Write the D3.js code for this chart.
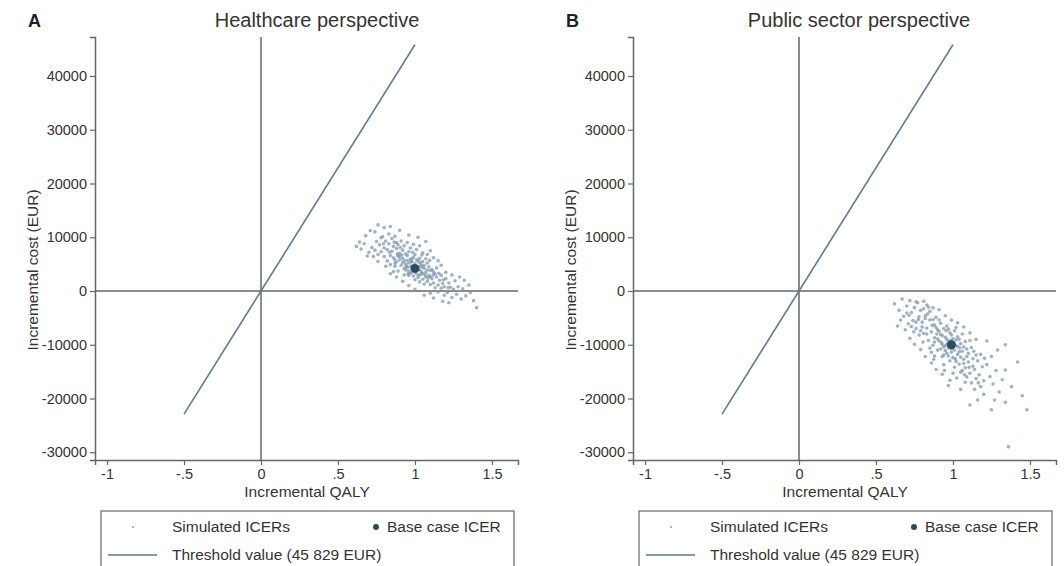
<!DOCTYPE html>
<html>
<head>
<meta charset="utf-8">
<script src="https://cdn.jsdelivr.net/npm/d3@7"></script>
<style>
  body { margin: 0; background: #fff; }
  text { font-family: "Liberation Sans", Arial, sans-serif; fill: #333; }
</style>
</head>
<body>
<script>
// chart values
var qalyTicks = [-1, -0.5, 0, 0.5, 1, 1.5];
var qalyTickLabels = ["-1", "-.5", "0", ".5", "1", "1.5"];
var costTicks = [40000, 30000, 20000, 10000, 0, -10000, -20000, -30000];
var threshold = 45829;
var thresholdQaly = [-0.5, 1];
var titles = ["Healthcare perspective", "Public sector perspective"];
var letters = ["A", "B"];
var legendLabels = ["Simulated ICERs", "Base case ICER", "Threshold value (45 829 EUR)"];

var baseA = [1.0, 4200];
var baseB = [0.99, -10000];

// simulated ICERs, healthcare perspective [QALY, EUR]
var simA = [
  [0.86,6200],[0.88,5400],[0.9,7000],[0.91,4800],[0.92,6100],[0.93,5600],[0.94,3900],[0.95,6600],[0.95,4400],[0.96,5200],
  [0.97,3300],[0.97,5900],[0.98,4700],[0.99,2800],[0.99,6300],[1.0,5100],[1.0,3600],[1.01,4400],[1.02,2500],[1.02,5600],
  [1.03,3900],[1.04,3100],[1.04,4900],[1.05,2200],[1.06,4200],[1.07,3500],[1.08,1800],[1.08,5200],[1.09,2900],[1.1,3800],
  [1.11,2300],[1.12,1500],[1.13,3200],[1.14,2600],[1.15,1100],[0.87,4600],[0.89,3700],[0.9,5800],[0.92,7600],[0.93,4200],
  [0.94,6900],[0.96,2900],[0.96,7300],[0.98,5500],[0.98,3500],[1.0,6800],[1.0,2100],[1.01,5800],[1.03,6100],[1.03,1700],
  [1.05,5500],[1.05,3300],[1.06,1300],[1.07,6000],[1.07,2600],[1.09,4500],[1.1,1200],[1.11,4000],[1.12,3000],[1.13,600],
  [1.14,4300],[1.16,2000],[1.17,2900],[1.18,1400],[1.19,800],[0.72,8100],[0.74,7600],[0.75,9200],[0.76,6800],[0.77,8600],
  [0.78,7300],[0.79,10100],[0.8,6400],[0.8,8000],[0.81,9300],[0.82,5600],[0.82,7700],[0.83,8800],[0.84,6600],[0.84,4900],
  [0.85,9800],[0.85,7400],[0.86,8300],[0.87,5800],[0.88,7900],[0.88,9000],[0.89,6500],[0.7,7200],[0.73,6400],[0.76,5500],
  [0.78,9900],[0.81,4600],[0.83,10600],[0.86,3600],[0.87,10200],[0.89,8600],[0.91,9300],[0.93,8400],[0.95,9000],[0.97,8000],
  [0.99,8700],[1.01,7700],[1.03,8400],[1.05,7100],[1.08,6800],[1.1,7500],[1.12,6200],[1.15,5600],[1.17,4800],[1.15,-200],
  [1.17,500],[1.19,-800],[1.2,2300],[1.21,-300],[1.22,1500],[1.23,700],[1.24,-1200],[1.25,300],[1.26,1900],[1.27,-600],
  [1.28,800],[1.3,-1500],[1.31,400],[1.33,-900],[1.35,1100],[1.36,-300],[1.38,-1800],[1.4,-3100],[1.29,2600],[1.2,3500],
  [1.24,3000],[1.32,2000],[1.18,-1900],[1.1,-400],[1.06,-800],[1.0,300],[0.96,1000],[0.92,1800],[0.88,2600],[0.84,3200],
  [1.12,-1300],[1.22,-2200],[0.62,8300],[0.65,7800],[0.64,9100],[0.68,10300],[0.71,11200],[0.74,11000],[0.8,11800],[0.76,12300],
  [0.9,11300],[0.84,12000],[0.96,10400],[1.02,10000],[1.07,9200],[0.67,8800],[0.69,6500],[0.94,5000],[0.97,4500],[1.0,4700],
  [1.02,4000],[1.04,3600],[0.99,3900],[0.96,3700],[1.01,3200],[1.06,4800],[0.92,5300],[0.98,6000],[1.03,5300],[0.95,5700],
  [1.05,4400],[0.9,6400],[1.08,3900],[0.93,3000],[1.1,2700],[0.87,5100],[1.12,3600],
  [0.915,6700],[0.945,4600],[0.975,5400],[1.005,3900],[1.035,4600],[1.065,3000],[0.885,6900],[0.955,3200],[1.025,2900],[1.085,2400],
  [0.835,7200],[0.865,9100],[0.795,8800],[0.905,8100],[0.985,7200],[1.045,6700],[1.095,5700],[1.155,3300],[1.185,2100],[1.215,600]
];

// simulated ICERs, public sector perspective [QALY, EUR]
var simB = [
  [0.8,-5800],[0.81,-7900],[0.82,-4600],[0.83,-6900],[0.84,-9200],[0.85,-5400],[0.86,-7600],[0.87,-10100],[0.88,-6300],[0.88,-8700],
  [0.89,-4900],[0.9,-7200],[0.9,-11000],[0.91,-9300],[0.92,-6000],[0.92,-8100],[0.93,-12200],[0.94,-7000],[0.94,-10400],[0.95,-8600],
  [0.96,-11600],[0.96,-6500],[0.97,-9400],[0.98,-13000],[0.98,-7800],[0.99,-10800],[1.0,-8900],[1.0,-12400],[1.01,-14200],[1.01,-7400],
  [1.02,-10200],[1.03,-11800],[1.03,-8500],[1.04,-13600],[1.05,-9800],[1.05,-15100],[1.06,-11200],[1.07,-12700],[1.08,-9400],[1.08,-14300],
  [1.09,-16000],[1.1,-11600],[1.1,-13200],[1.11,-15300],[1.12,-10500],[1.12,-17100],[1.13,-12600],[1.14,-14600],[1.15,-16300],[1.16,-13000],
  [1.17,-15600],[1.18,-17800],[1.19,-14100],[1.2,-16700],[0.85,-3800],[0.87,-5300],[0.89,-6800],[0.91,-5400],[0.93,-9900],[0.95,-11100],
  [0.97,-7100],[0.97,-12100],[0.99,-8200],[1.0,-10300],[1.02,-13100],[1.04,-9000],[1.04,-11300],[1.06,-14800],[1.07,-10400],[1.09,-12200],
  [1.11,-9200],[1.13,-14000],[1.15,-11900],[1.06,-8000],[0.96,-9900],[0.94,-13700],[0.92,-10800],[1.0,-15300],[1.02,-6800],[0.9,-8900],
  [0.86,-11400],[1.08,-17000],[1.14,-18300],[1.18,-11800],[1.22,-13700],[1.24,-15900],[1.2,-19200],[1.26,-17300],[1.28,-14800],[1.3,-18800],
  [1.32,-16500],[1.25,-12200],[1.29,-11000],[1.34,-20700],[1.25,-22100],[1.11,-21200],[1.34,-14700],[1.34,-10000],[1.42,-13200],[1.48,-22100],
  [1.36,-29000],[1.45,-19500],[1.38,-17800],[1.16,-20300],[1.05,-18300],[0.98,-16600],[1.22,-9300],[1.27,-20300],[0.62,-2400],[0.65,-3600],
  [0.67,-1500],[0.68,-4700],[0.7,-2800],[0.71,-6100],[0.72,-1800],[0.73,-4000],[0.74,-5500],[0.75,-3100],[0.76,-7000],[0.77,-2200],
  [0.78,-4800],[0.78,-8200],[0.79,-3600],[0.8,-6700],[0.81,-1900],[0.82,-5100],[0.83,-8000],[0.84,-3000],[0.66,-5400],[0.69,-7200],
  [0.72,-8800],[0.75,-9900],[0.79,-10900],[0.82,-12200],[0.86,-13400],[0.89,-14600],[0.93,-15500],[0.97,-17600],[0.64,-6500],[0.7,-4100],
  [0.76,-2000],[0.73,-6600],[0.81,-3300],[0.83,-2600],[0.87,-3100],[0.91,-3500],[0.95,-4600],[0.99,-5400],[1.03,-5900],[1.07,-6700],
  [1.11,-7800],[1.15,-9000],[0.76,-5800],[0.79,-7400],[0.85,-10600],[0.88,-12100],[0.96,-9000],[0.98,-10000],[1.0,-9600],[1.01,-11000],
  [1.03,-10300],[0.97,-10600],[0.99,-11400],[0.95,-10200],[1.02,-9100],[1.05,-12300],[0.93,-8300],[0.91,-7500],[1.07,-13500],[0.88,-9500],
  [1.09,-10800],[0.94,-11900],
  [0.835,-4300],[0.865,-6400],[0.895,-8000],[0.925,-9600],[0.955,-7400],[0.985,-9200],[1.015,-12600],[1.045,-10600],[1.075,-15600],[1.105,-14200],
  [0.775,-5300],[0.805,-9500],[0.875,-12700],[0.945,-14800],[1.025,-16200],[1.135,-11200],[1.165,-17100],[1.205,-12500],[0.715,-4500],[0.745,-7600]
];

var width = 1064, height = 566;
var plotW = 423, plotH = 423;
var plotTop = 37;
var panelLeft = [95, 633];

var svg = d3.select('body').append('svg')
  .attr('width', width)
  .attr('height', height);

var x = d3.scaleLinear().domain([-1.078, 1.669]).range([0, plotW]);
var y = d3.scaleLinear().domain([-31442, 47256]).range([plotH, 0]);

var axisCol = '#666', lineCol = '#5a7a94', dotCol = '#7f98b0', baseCol = '#2d4b60';

var drawPanel = function(i, sims, base){
  var left = panelLeft[i];
  var g = svg.append('g').attr('transform', 'translate(' + left + ',' + plotTop + ')');

  // panel letter and title
  svg.append('text').attr('x', left - 67).attr('y', 27)
    .style('font-size', '18px').style('font-weight', 'bold').style('fill', '#222')
    .text(letters[i]);
  svg.append('text').attr('x', left + 222 + i * 4).attr('y', 27)
    .attr('text-anchor', 'middle').style('font-size', '20px')
    .text(titles[i]);

  // zero lines
  g.append('line').attr('x1', 0).attr('x2', plotW).attr('y1', y(0)).attr('y2', y(0))
    .style('stroke', axisCol).style('stroke-width', 1.5);
  g.append('line').attr('x1', x(0)).attr('x2', x(0)).attr('y1', 0).attr('y2', plotH)
    .style('stroke', axisCol).style('stroke-width', 1.5);

  // simulated points
  g.selectAll('circle.sim').data(sims).enter().append('circle')
    .attr('class', 'sim')
    .attr('cx', function(d){ return x(d[0]); })
    .attr('cy', function(d){ return y(d[1]); })
    .attr('r', 1.8)
    .style('fill', dotCol).style('opacity', 0.75);

  // threshold line
  g.append('line')
    .attr('x1', x(thresholdQaly[0])).attr('y1', y(thresholdQaly[0] * threshold))
    .attr('x2', x(thresholdQaly[1])).attr('y2', y(thresholdQaly[1] * threshold))
    .style('stroke', lineCol).style('stroke-width', 1.6);

  // base case
  g.append('circle').attr('cx', x(base[0])).attr('cy', y(base[1])).attr('r', 4.5)
    .style('fill', baseCol);

  // axes
  var yAxis = d3.axisLeft(y).tickValues(costTicks).tickSize(5).tickPadding(3)
    .tickFormat(function(d){ return String(d); });
  var gy = g.append('g').call(yAxis);
  var xAxis = d3.axisBottom(x).tickValues(qalyTicks).tickSize(5).tickPadding(4)
    .tickFormat(function(d, k){ return qalyTickLabels[k]; });
  var gx = g.append('g').attr('transform', 'translate(0,' + plotH + ')').call(xAxis);
  [gx, gy].forEach(function(a){
    a.select('.domain').style('stroke', axisCol).style('stroke-width', 1.5);
    a.selectAll('.tick line').style('stroke', axisCol).style('stroke-width', 1.2);
    a.selectAll('.tick text').style('font-size', '14.5px').style('fill', '#333')
      .style('font-family', '"Liberation Sans", Arial, sans-serif');
  });

  // axis titles
  svg.append('text').attr('x', left + 212).attr('y', 497)
    .attr('text-anchor', 'middle').style('font-size', '15.5px')
    .text('Incremental QALY');
  svg.append('text')
    .attr('transform', 'translate(' + (left - 57) + ',270) rotate(-90)')
    .attr('text-anchor', 'middle').style('font-size', '15.5px')
    .text('Incremental cost (EUR)');

  // legend
  var lx = left + 6;
  svg.append('rect').attr('x', lx).attr('y', 511).attr('width', 413).attr('height', 70)
    .style('fill', '#fff').style('stroke', axisCol).style('stroke-width', 1.2);
  svg.append('circle').attr('cx', lx + 32).attr('cy', 527).attr('r', 0.9).style('fill', dotCol);
  svg.append('text').attr('x', lx + 71).attr('y', 532).style('font-size', '15.5px').text(legendLabels[0]);
  svg.append('circle').attr('cx', lx + 275).attr('cy', 527).attr('r', 3).style('fill', baseCol);
  svg.append('text').attr('x', lx + 286).attr('y', 532).style('font-size', '15.5px').text(legendLabels[1]);
  svg.append('line').attr('x1', lx + 7).attr('x2', lx + 56).attr('y1', 555).attr('y2', 555)
    .style('stroke', lineCol).style('stroke-width', 1.6);
  svg.append('text').attr('x', lx + 71).attr('y', 560).style('font-size', '15.5px').text(legendLabels[2]);
};

drawPanel(0, simA, baseA);
drawPanel(1, simB, baseB);
</script>
</body>
</html>
